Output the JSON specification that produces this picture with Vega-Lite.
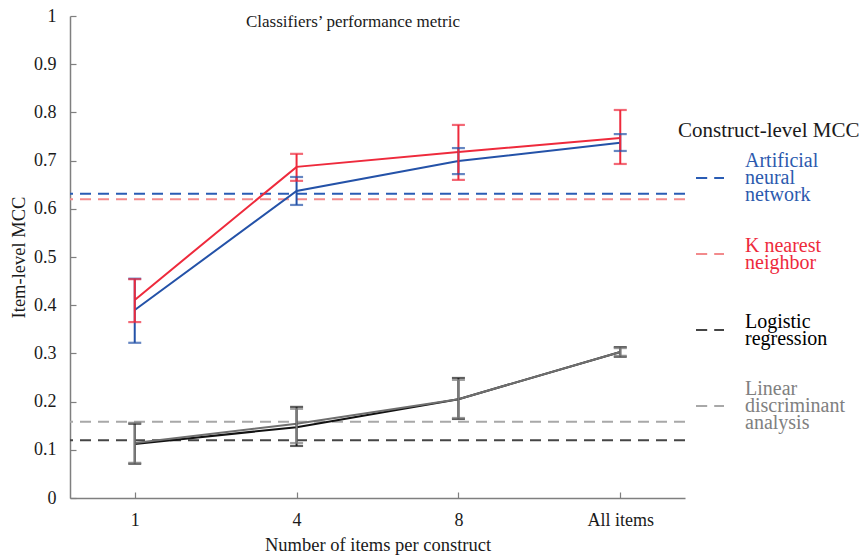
{
  "$schema": "https://vega.github.io/schema/vega-lite/v6.json",
  "width": 615,
  "height": 482,
  "autosize": {"type": "none"},
  "padding": {"left": 70, "top": 16, "right": 182, "bottom": 58},
  "background": "white",
  "config": {
    "view": {"stroke": null},
    "font": "Liberation Serif",
    "axis": {
      "grid": false,
      "domainColor": "#7f7f7f",
      "domainWidth": 1.5,
      "tickColor": "#7f7f7f",
      "tickWidth": 1.2,
      "labelColor": "#1a1a1a",
      "titleColor": "#1a1a1a",
      "labelFont": "Liberation Serif",
      "titleFont": "Liberation Serif",
      "labelFontSize": 18,
      "titleFontSize": 18.5,
      "titleFontWeight": "normal"
    }
  },
  "datasets": {
    "item": [
      {"n": "1", "model": "Artificial neural network", "mcc": 0.390, "lo": 0.322, "hi": 0.455},
      {"n": "4", "model": "Artificial neural network", "mcc": 0.637, "lo": 0.608, "hi": 0.666},
      {"n": "8", "model": "Artificial neural network", "mcc": 0.699, "lo": 0.672, "hi": 0.726},
      {"n": "All items", "model": "Artificial neural network", "mcc": 0.737, "lo": 0.720, "hi": 0.755},
      {"n": "1", "model": "K nearest neighbor", "mcc": 0.411, "lo": 0.365, "hi": 0.454},
      {"n": "4", "model": "K nearest neighbor", "mcc": 0.687, "lo": 0.658, "hi": 0.714},
      {"n": "8", "model": "K nearest neighbor", "mcc": 0.718, "lo": 0.660, "hi": 0.774},
      {"n": "All items", "model": "K nearest neighbor", "mcc": 0.747, "lo": 0.693, "hi": 0.805},
      {"n": "1", "model": "Logistic regression", "mcc": 0.112, "lo": 0.071, "hi": 0.154},
      {"n": "4", "model": "Logistic regression", "mcc": 0.147, "lo": 0.108, "hi": 0.189},
      {"n": "8", "model": "Logistic regression", "mcc": 0.205, "lo": 0.164, "hi": 0.249},
      {"n": "All items", "model": "Logistic regression", "mcc": 0.303, "lo": 0.293, "hi": 0.313},
      {"n": "1", "model": "Linear discriminant analysis", "mcc": 0.114, "lo": 0.073, "hi": 0.156},
      {"n": "4", "model": "Linear discriminant analysis", "mcc": 0.154, "lo": 0.114, "hi": 0.185},
      {"n": "8", "model": "Linear discriminant analysis", "mcc": 0.205, "lo": 0.166, "hi": 0.245},
      {"n": "All items", "model": "Linear discriminant analysis", "mcc": 0.303, "lo": 0.295, "hi": 0.311}
    ],
    "construct": [
      {"model": "Artificial neural network", "mcc": 0.631},
      {"model": "K nearest neighbor", "mcc": 0.620},
      {"model": "Logistic regression", "mcc": 0.120},
      {"model": "Linear discriminant analysis", "mcc": 0.158}
    ]
  },
  "layer": [
    {
      "data": {"name": "construct"},
      "mark": {"type": "rule", "strokeDash": [11, 7], "strokeWidth": 2},
      "encoding": {
        "y": {"field": "mcc", "type": "quantitative", "scale": {"domain": [0, 1]}},
        "opacity": {
          "datum": "chart title",
          "type": "nominal",
          "scale": {"range": [1]},
          "legend": {
            "title": "Classifiers’ performance metric",
            "orient": "none",
            "legendX": 176,
            "legendY": -2,
            "titleFont": "Liberation Serif",
            "titleFontSize": 17,
            "titleFontWeight": "normal",
            "titleColor": "#1a1a1a",
            "titleLimit": 400,
            "labelExpr": "''",
            "symbolOpacity": 0,
            "symbolStrokeWidth": 0,
            "symbolSize": 1
          }
        },
        "color": {
          "field": "model",
          "type": "nominal",
          "scale": {
            "domain": ["Artificial neural network", "K nearest neighbor", "Logistic regression", "Linear discriminant analysis"],
            "range": ["#2a5cb4", "#f28a8c", "#454545", "#a8a8a8"]
          },
          "legend": {
            "title": "Construct-level MCC",
            "orient": "none",
            "legendX": 608,
            "legendY": 104,
            "titleFont": "Liberation Serif",
            "titleFontSize": 21,
            "titleFontWeight": "normal",
            "titleColor": "#1a1a1a",
            "titleLimit": 400,
            "titlePadding": 22,
            "symbolType": "M-1,-1.93M-1,0L-0.2,0M0.3,0L1,0M1,1.93",
            "symbolSize": 784,
            "symbolStrokeWidth": 2,
            "symbolDash": [40, 0],
            "symbolOffset": 17,
            "labelOffset": 20,
            "labelFont": "Liberation Serif",
            "labelFontSize": 20,
            "labelLimit": 200,
            "rowPadding": 12,
            "labelExpr": "datum.label == 'Artificial neural network' ? ['Artificial', 'neural', 'network'] : datum.label == 'K nearest neighbor' ? ['K nearest', 'neighbor'] : datum.label == 'Logistic regression' ? ['Logistic', 'regression'] : ['Linear', 'discriminant', 'analysis']",
            "encoding": {
              "labels": {
                "lineHeight": {"value": 17},
                "dy": {"value": {"expr": "datum.value == 'Artificial neural network' || datum.value == 'Linear discriminant analysis' ? -17 : -8.5"}},
                "fill": {"value": {"expr": "datum.value == 'Artificial neural network' ? '#2c5aae' : datum.value == 'K nearest neighbor' ? '#ee2a3c' : datum.value == 'Logistic regression' ? '#000000' : '#808080'"}}
              }
            }
          }
        }
      }
    },
    {
      "data": {"name": "item"},
      "mark": {"type": "line", "strokeWidth": 2},
      "encoding": {
        "x": {
          "field": "n",
          "type": "ordinal",
          "sort": ["1", "4", "8", "All items"],
          "scale": {"type": "point", "padding": 0.4},
          "axis": {
            "title": "Number of items per construct",
            "labelAngle": 0,
            "tickSize": -6,
            "labelPadding": 19,
            "titlePadding": 6
          }
        },
        "y": {
          "field": "mcc",
          "type": "quantitative",
          "scale": {"domain": [0, 1], "nice": false},
          "axis": {
            "title": "Item-level MCC",
            "values": [0, 0.1, 0.2, 0.3, 0.4, 0.5, 0.6, 0.7, 0.8, 0.9, 1],
            "format": "~g",
            "tickSize": -6,
            "labelPadding": 20,
            "titlePadding": 5
          }
        },
        "detail": {"field": "model"},
        "color": {
          "field": "model",
          "type": "nominal",
          "scale": {
            "domain": ["Logistic regression", "Linear discriminant analysis", "Artificial neural network", "K nearest neighbor"],
            "range": ["#111111", "#6f6f6f", "#2452a8", "#ee2a3c"]
          },
          "legend": null
        },
        "order": {"field": "model"}
      }
    },
    {
      "data": {"name": "item"},
      "mark": {"type": "rule", "strokeWidth": 2},
      "encoding": {
        "x": {"field": "n", "type": "ordinal", "sort": ["1", "4", "8", "All items"]},
        "y": {"field": "lo", "type": "quantitative"},
        "y2": {"field": "hi"},
        "stroke": {
          "field": "model",
          "type": "nominal",
          "scale": {
            "domain": ["Logistic regression", "Linear discriminant analysis", "Artificial neural network", "K nearest neighbor"],
            "range": ["#1a1a1a", "#7a7a7a", "#2452a8", "#ee2a3c"]
          },
          "legend": null
        }
      }
    },
    {
      "data": {"name": "item"},
      "mark": {"type": "tick", "size": 13, "thickness": 2.2},
      "encoding": {
        "x": {"field": "n", "type": "ordinal", "sort": ["1", "4", "8", "All items"]},
        "y": {"field": "lo", "type": "quantitative"},
        "color": {
          "field": "model",
          "type": "nominal",
          "scale": {
            "domain": ["Logistic regression", "Linear discriminant analysis", "Artificial neural network", "K nearest neighbor"],
            "range": ["#1a1a1a", "#7a7a7a", "#2452a8", "#ee2a3c"]
          },
          "legend": null
        }
      }
    },
    {
      "data": {"name": "item"},
      "mark": {"type": "tick", "size": 13, "thickness": 2.2},
      "encoding": {
        "x": {"field": "n", "type": "ordinal", "sort": ["1", "4", "8", "All items"]},
        "y": {"field": "hi", "type": "quantitative"},
        "color": {
          "field": "model",
          "type": "nominal",
          "scale": {
            "domain": ["Logistic regression", "Linear discriminant analysis", "Artificial neural network", "K nearest neighbor"],
            "range": ["#1a1a1a", "#7a7a7a", "#2452a8", "#ee2a3c"]
          },
          "legend": null
        }
      }
    }
  ],
  "resolve": {"scale": {"color": "independent", "stroke": "independent"}}
}
